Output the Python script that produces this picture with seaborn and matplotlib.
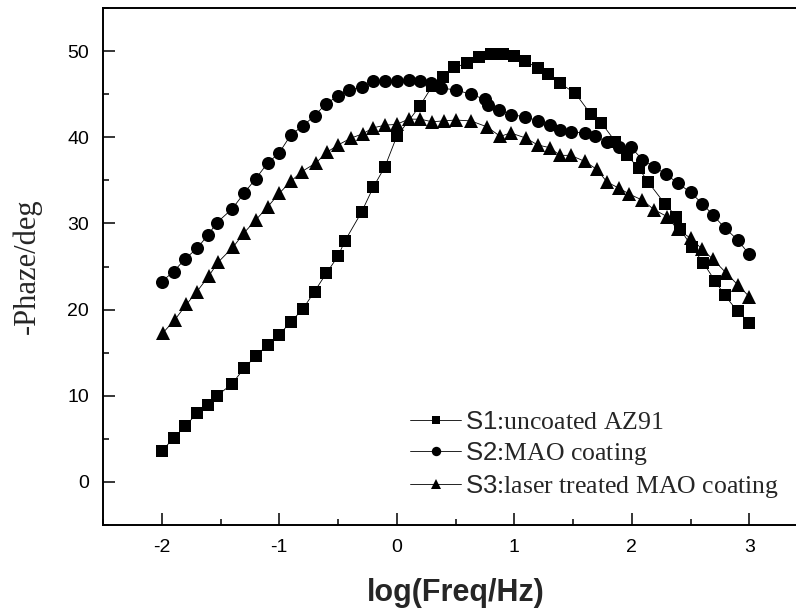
import numpy as np
import pandas as pd
import matplotlib
matplotlib.use('Agg')
import matplotlib.pyplot as plt
import seaborn as sns
from matplotlib.ticker import MultipleLocator

# values (log f vs -phase)
s1_x = [-2.0, -1.9, -1.8, -1.7, -1.61, -1.53, -1.4, -1.3, -1.2, -1.1, -1.0, -0.9, -0.8,
        -0.7, -0.6, -0.5, -0.44, -0.3, -0.2, -0.1, 0.0, 0.195, 0.3, 0.39, 0.49, 0.6, 0.7,
        0.8, 0.9, 1.0, 1.09, 1.2, 1.29, 1.39, 1.52, 1.65, 1.74, 1.86, 1.96, 2.06, 2.14,
        2.28, 2.38, 2.41, 2.51, 2.61, 2.71, 2.79, 2.9, 3.0]
s1_y = [3.55, 5.1, 6.45, 8.0, 8.96, 10.0, 11.4, 13.2, 14.6, 15.9, 17.1, 18.6, 20.05,
        22.1, 24.2, 26.2, 28.0, 31.3, 34.2, 36.6, 40.1, 43.6, 45.9, 47.0, 48.1, 48.6, 49.3,
        49.7, 49.7, 49.45, 48.9, 48.0, 47.3, 46.25, 45.1, 42.7, 41.7, 39.5, 37.9, 36.4, 34.8,
        32.3, 30.8, 29.4, 27.3, 25.4, 23.3, 21.7, 19.8, 18.5]

s2_x = [-2.0, -1.9, -1.8, -1.7, -1.61, -1.53, -1.4, -1.3, -1.2, -1.1, -1.0, -0.9, -0.8,
        -0.7, -0.6, -0.5, -0.41, -0.3, -0.2, -0.1, 0.0, 0.1, 0.2, 0.29, 0.38, 0.5, 0.63,
        0.75, 0.78, 0.87, 0.97, 1.09, 1.2, 1.3, 1.39, 1.48, 1.6, 1.69, 1.79, 1.89, 1.99,
        2.09, 2.19, 2.29, 2.39, 2.5, 2.6, 2.69, 2.79, 2.9, 3.0]
s2_y = [23.26, 24.4, 25.9, 27.1, 28.6, 30.1, 31.7, 33.5, 35.2, 36.98, 38.2, 40.3, 41.3,
        42.5, 43.9, 44.8, 45.5, 45.8, 46.5, 46.5, 46.5, 46.6, 46.5, 46.3, 45.7, 45.5, 45.0,
        44.4, 43.7, 43.2, 42.6, 42.4, 41.9, 41.4, 40.8, 40.6, 40.5, 40.1, 39.5, 38.9, 38.9,
        37.4, 36.6, 35.7, 34.7, 33.6, 32.3, 31.0, 29.5, 28.1, 26.4]

s3_x = [-1.99, -1.89, -1.79, -1.7, -1.6, -1.52, -1.39, -1.3, -1.2, -1.1, -1.0, -0.9, -0.81,
        -0.69, -0.59, -0.5, -0.39, -0.29, -0.2, -0.1, 0.0, 0.1, 0.2, 0.3, 0.4, 0.5, 0.63,
        0.77, 0.88, 0.97, 1.1, 1.2, 1.3, 1.39, 1.48, 1.6, 1.7, 1.79, 1.89, 1.98, 2.09,
        2.19, 2.3, 2.39, 2.5, 2.6, 2.69, 2.8, 2.9, 3.0]
s3_y = [17.3, 18.8, 20.6, 22.1, 23.9, 25.5, 27.3, 28.9, 30.4, 31.9, 33.5, 34.9, 36.0,
        37.0, 38.3, 39.1, 39.9, 40.4, 41.1, 41.4, 41.5, 42.1, 42.1, 41.8, 41.9, 42.0, 41.9,
        41.2, 40.1, 40.5, 39.9, 39.1, 38.8, 37.9, 37.9, 37.2, 36.3, 34.8, 34.1, 33.4, 32.7,
        31.6, 30.8, 29.3, 28.3, 27.0, 25.85, 24.3, 22.9, 21.5]

labels = [r'$\mathsf{S1}$:uncoated AZ91',
          r'$\mathsf{S2}$:MAO coating',
          r'$\mathsf{S3}$:laser treated MAO coating']

sns.set_style('ticks')
plt.rcParams['font.family'] = ['Liberation Sans', 'DejaVu Sans']
plt.rcParams['mathtext.fontset'] = 'custom'
plt.rcParams['mathtext.sf'] = 'Liberation Sans'
plt.rcParams['mathtext.rm'] = 'Liberation Serif'
plt.rcParams['axes.unicode_minus'] = False

fig = plt.figure(figsize=(7.96, 6.16), dpi=100)
ax = fig.add_axes([0.1294, 0.1477, 0.8857, 0.8393])

series = [(s1_x, s1_y, 's', 8.4),
          (s2_x, s2_y, 'o', 9.4),
          (s3_x, s3_y, '^', 9.8)]
for (x, y, m, ms), lab in zip(series, labels):
    sns.lineplot(x=x, y=y, ax=ax, color='black', lw=0.6, marker=m,
                 markersize=ms, markeredgewidth=0, label=lab)

ax.set_xlim(-2.5, 3.5)
ax.set_ylim(-5, 55)
ax.xaxis.set_major_locator(MultipleLocator(1))
ax.xaxis.set_minor_locator(MultipleLocator(0.5))
ax.yaxis.set_major_locator(MultipleLocator(10))
ax.yaxis.set_minor_locator(MultipleLocator(5))
ax.tick_params(which='both', direction='in', width=1.1, colors='black',
               labelsize=14, pad=10)
ax.tick_params(which='major', length=8.5)
ax.tick_params(which='minor', length=4.5)
for sp in ax.spines.values():
    sp.set_linewidth(1.4)
    sp.set_color('black')

ax.set_xlabel('log(Freq/Hz)', fontsize=22, fontweight='bold')
ax.set_ylabel('-Phaze/deg', fontsize=22, family='Liberation Serif')
ax.xaxis.set_label_coords(0.5, -0.103)
ax.yaxis.set_label_coords(-0.087, 0.5)

ax.legend(loc='upper left', bbox_to_anchor=(0.4355, 0.220), frameon=False,
          prop={'family': 'Liberation Serif', 'size': 18.5}, handlelength=2.0,
          handletextpad=0.12, labelspacing=0.22, borderpad=0, borderaxespad=0,
          markerscale=0.72)

fig.savefig('out.png', dpi=100)
